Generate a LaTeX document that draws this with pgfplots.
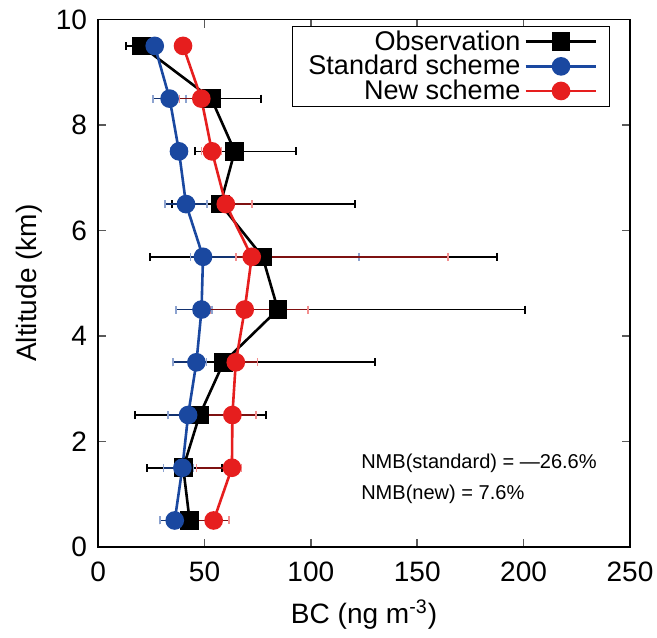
\documentclass[border=0pt]{standalone}
\usepackage{pgfplots}
\pgfplotsset{compat=1.18}
\usepackage{fontspec}
\setmainfont{Liberation Sans}
\usetikzlibrary{calc}
\definecolor{obsblack}{RGB}{0,0,0}
\definecolor{stdblue}{RGB}{26,72,160}
\definecolor{newred}{RGB}{230,30,30}
\begin{document}
\begin{tikzpicture}
\begin{axis}[
  scale only axis,
  width=265.5pt, height=263.25pt,
  xmin=0, xmax=250, ymin=0, ymax=10,
  xtick={0,50,100,150,200,250},
  ytick={0,2,4,6,8,10},
  tick align=inside,
  major tick length=4pt,
  tick style={gray!70!black, line width=0.8pt},
  axis line style={line width=0.9pt},
  /pgf/number format/assume math mode=true,
  tick label style={font=\fontsize{14}{16}\selectfont},
  label style={font=\fontsize{14}{16}\selectfont},
  xlabel={BC (ng m\textsuperscript{-3})},
  ylabel={Altitude (km)},
  xticklabel style={yshift=-4pt},
  yticklabel style={xshift=-2pt},
  xlabel style={yshift=-2pt},
  ylabel style={yshift=0pt},
  legend cell align=right,
  legend style={at={(0.963,0.988)}, anchor=north east, font=\fontsize{13.5}{13}\selectfont,
    legend plot pos=right, draw=black, line width=0.6pt, inner xsep=6pt, inner ysep=0pt,
    row sep=-3pt},
  legend image code/.code={\draw[mark repeat=2,mark phase=2] plot coordinates {(0cm,0cm) (0.62cm,0cm) (1.24cm,0cm)};},
  clip=false,
]
\addplot[obsblack, line width=1.3pt, mark=square*, mark size=4pt,
  error bars/.cd, x dir=both, x explicit,
  error bar style={line width=0.8pt, black},
  error mark options={rotate=90, mark size=2pt, line width=1pt, black}]
coordinates {
(20.3,9.5) -= (7,0) += (6,0)
(53.2,8.5) -= (20,0) += (23.2,0)
(64.2,7.5) -= (18.8,0) += (28.7,0)
(57.5,6.5) -= (22.6,0) += (63.1,0)
(77.3,5.5) -= (53.1,0) += (110,0)
(84.5,4.5) -= (39.6,0) += (116.1,0)
(59,3.5) -= (23.8,0) += (71,0)
(47.7,2.5) -= (30.2,0) += (31.1,0)
(40,1.5) -= (17,0) += (18,0)
(43,0.5) -= (13.8,0) += (12,0)
};
\addlegendentry{Observation}
\addplot[stdblue, line width=1.3pt, mark=*, mark size=4pt,
  error bars/.cd, x dir=both, x explicit,
  error bar style={line width=0.8pt, stdblue!70!black},
  error mark options={rotate=90, mark size=2pt, line width=0.8pt, stdblue!50!white}]
coordinates {
(26.6,9.5) -= (3,0) += (3,0)
(33.6,8.5) -= (7.8,0) += (7.8,0)
(38,7.5) -= (4,0) += (4,0)
(41.3,6.5) -= (10,0) += (9.9,0)
(49.3,5.5) -= (5.8,0) += (73.2,0)
(48.6,4.5) -= (12.1,0) += (5,0)
(46.2,3.5) -= (11,0) += (4.7,0)
(42.3,2.5) -= (9.4,0) += (8,0)
(39.6,1.5) -= (8.8,0) += (5,0)
(36,0.5) -= (6.8,0) += (5.5,0)
};
\addlegendentry{Standard scheme}
\addplot[newred, line width=1.3pt, mark=*, mark size=4pt,
  error bars/.cd, x dir=both, x explicit,
  error bar style={line width=0.8pt, newred!55!black},
  error mark options={rotate=90, mark size=2pt, line width=0.8pt, newred!50!white}]
coordinates {
(39.9,9.5) -= (3,0) += (3,0)
(48.5,8.5) -= (10.2,0) += (5,0)
(53.5,7.5) -= (5,0) += (4.5,0)
(60,6.5) -= (4,0) += (12.3,0)
(72.2,5.5) -= (7.5,0) += (92.3,0)
(68.9,4.5) -= (16.1,0) += (29.8,0)
(64.7,3.5) -= (9.9,0) += (10.2,0)
(63.1,2.5) -= (12.5,0) += (11,0)
(62.9,1.5) -= (16.7,0) += (4.4,0)
(54.3,0.5) -= (10.5,0) += (7.2,0)
};
\addlegendentry{New scheme}
\node[anchor=west, font=\fontsize{10}{12}\selectfont, inner sep=0pt] at (axis cs:123.5,1.58) {NMB(standard) = —26.6\%};
\node[anchor=west, font=\fontsize{10}{12}\selectfont, inner sep=0pt] at (axis cs:123.5,1.0) {NMB(new) = 7.6\%};
\end{axis}
\pgfresetboundingbox
\path[use as bounding box] ($(current axis.south west)+(-49pt,-45.5pt)$) rectangle ($(current axis.north east)+(13.5pt,9.75pt)$);
\end{tikzpicture}
\end{document}
